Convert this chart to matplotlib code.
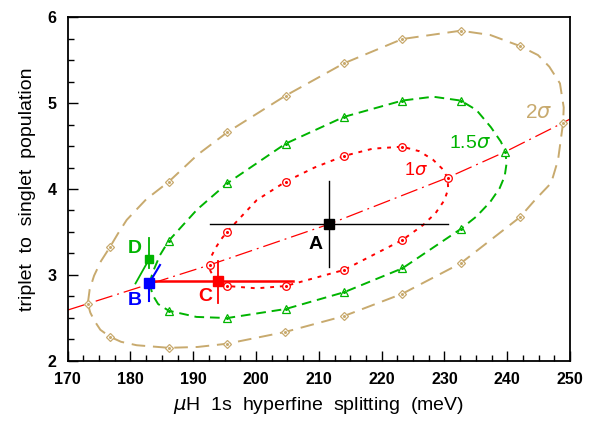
import numpy as np
import matplotlib.pyplot as plt
from matplotlib.ticker import MultipleLocator

plt.rcParams['font.family'] = ['Liberation Sans', 'DejaVu Sans']
plt.rcParams['mathtext.fontset'] = 'dejavusans'

# 2 sigma contour (closed), markers at mk2
x2 = [173.2, 173.6, 174.3, 175.2, 176.7, 178.5, 181.0, 186.1, 190.7, 195.4, 204.6, 214.0,
      223.3, 232.6, 242.0, 244.4, 247.0, 248.1, 248.9, 249.0, 248.4, 246.7, 244.9, 242.0,
      237.3, 232.6, 223.3, 214.0, 204.7, 195.4, 190.7, 186.1, 182.5, 179.4, 178.0, 176.7,
      175.3, 174.2, 173.5, 173.2]
y2 = [2.664, 2.56, 2.46, 2.36, 2.28, 2.22, 2.18, 2.15, 2.16, 2.198, 2.334, 2.52,
      2.78, 3.135, 3.67, 3.87, 4.07, 4.34, 4.772, 4.95, 5.23, 5.425, 5.56, 5.666,
      5.794, 5.844, 5.747, 5.464, 5.087, 4.66, 4.40, 4.085, 3.88, 3.64, 3.48, 3.32,
      3.16, 2.99, 2.83, 2.664]
mk2 = [0, 4, 7, 9, 10, 11, 12, 13, 14, 18, 23, 25, 26, 27, 28, 29, 31, 35]

# 1.5 sigma contour
x15 = [183.1, 183.3, 183.6, 184.7, 186.1, 190.6, 195.4, 204.7, 214.0, 223.3, 228.2, 232.6,
       235.1, 237.4, 239.0, 239.7, 239.9, 239.6, 238.8, 237.3, 235.1, 232.6, 223.3, 214.0,
       204.7, 195.4, 190.5, 186.1, 184.4, 183.5, 183.1]
y15 = [2.89, 2.97, 3.04, 3.23, 3.398, 3.76, 4.066, 4.528, 4.84, 5.03, 5.075, 5.03,
       4.92, 4.72, 4.55, 4.434, 4.30, 4.15, 4.01, 3.85, 3.68, 3.534, 3.076, 2.797,
       2.602, 2.497, 2.51, 2.582, 2.66, 2.77, 2.89]
mk15 = [4, 6, 7, 8, 9, 11, 15, 21, 22, 23, 24, 25, 27]

# 1 sigma contour
x1 = [192.6, 192.9, 193.6, 194.5, 195.4, 200.1, 204.7, 209.3, 214.0, 218.6, 223.3, 226.0,
      228.2, 229.6, 230.5, 230.6, 230.0, 228.6, 226.6, 223.3, 214.0, 204.7, 200.1, 195.4,
      194.2, 193.2, 192.7, 192.6]
y1 = [3.115, 3.22, 3.32, 3.42, 3.503, 3.87, 4.085, 4.25, 4.385, 4.47, 4.493, 4.44,
      4.34, 4.24, 4.132, 4.0, 3.87, 3.72, 3.58, 3.406, 3.057, 2.87, 2.843, 2.87,
      2.90, 2.98, 3.05, 3.115]
mk1 = [0, 4, 6, 8, 10, 14, 19, 20, 21, 23]

# line through the contour tips
xt = [170.0, 173.2, 182.9, 192.6, 211.6, 230.5, 239.7, 248.9, 250.0]
yt = [2.59, 2.664, 2.89, 3.115, 3.59, 4.132, 4.434, 4.772, 4.815]

# points A-D
A = (211.6, 3.59); A_xerr = 19.0; A_yerr = 0.5
C = (193.9, 2.93); C_xlo, C_xhi = 183.0, 205.9; C_ylo, C_yhi = 2.67, 3.16
B = (182.95, 2.90); B_ylo = 2.69; B_tip = (184.7, 3.115)
D = (182.95, 3.18); D_ylo, D_yhi = 3.08, 3.43; D_tail = (180.8, 2.90)

tan = '#C8AA6E'
green = '#00B400'
red = '#FF0000'
blue = '#0000FF'

fig = plt.figure(figsize=(5.9, 4.21), dpi=100)
ax = fig.add_axes([67.7/590, 1-360.7/421, (570-67.7)/590, (360.7-17.3)/421])

def contour(x, y, mk, color, ls, marker, ms):
    ax.plot(x, y, color=color, lw=1.4, dashes=ls, zorder=2)
    ax.plot(np.array(x)[mk], np.array(y)[mk], ls='none', marker=marker, ms=ms,
            mfc='white', mec=color, mew=0.9, zorder=3)
    ax.plot(np.array(x)[mk], np.array(y)[mk], ls='none', marker='o', ms=1.2,
            color=color, zorder=4)

contour(x2, y2, mk2, tan, (7, 4), 'D', 4.2)
contour(x15, y15, mk15, green, (5, 3), '^', 5.5)
contour(x1, y1, mk1, red, (2, 3), 'o', 5.5)

ax.plot(xt, yt, color=red, lw=0.9, dashes=(14, 4, 1.5, 4), zorder=2)

# A
ax.plot([A[0]-A_xerr, A[0]+A_xerr], [A[1], A[1]], color='black', lw=1.0, zorder=5)
ax.plot([A[0], A[0]], [A[1]-A_yerr, A[1]+A_yerr], color='black', lw=1.0, zorder=5)
ax.plot(*A, marker='s', ms=7, color='black', zorder=6)
# C
ax.plot([C_xlo, C_xhi], [C[1], C[1]], color=red, lw=1.8, zorder=5)
ax.plot([C[0], C[0]], [C_ylo, C_yhi], color=red, lw=1.3, zorder=5)
ax.plot(*C, marker='s', ms=6.5, color=red, zorder=6)
# D
ax.plot([D[0], D[0]], [D_ylo, D_yhi], color=green, lw=1.3, zorder=5)
ax.plot([D_tail[0], D[0]], [D_tail[1], D[1]], color=green, lw=1.3, zorder=5)
ax.plot(*D, marker='s', ms=6, color=green, zorder=6)
# B
ax.plot([B[0], B[0]], [B_ylo, B[1]], color=blue, lw=1.5, zorder=5)
ax.plot([B[0], B_tip[0]], [B[1], B_tip[1]], color=blue, lw=1.5, zorder=5)
ax.plot(*B, marker='s', ms=7, color=blue, zorder=7)

lbl = dict(ha='center', va='center', fontsize=14, fontweight='bold')
ax.text(209.5, 3.35, 'A', color='black', **lbl)
ax.text(180.7, 2.70, 'B', color=blue, **lbl)
ax.text(191.85, 2.745, 'C', color=red, **lbl)
ax.text(180.7, 3.31, 'D', color=green, **lbl)

ax.text(225.5, 4.22, r'1$\sigma$', color=red, fontsize=13, ha='center', va='center')
ax.text(234.0, 4.53, r'1.5$\sigma$', color=green, fontsize=14, ha='center', va='center')
ax.text(245.0, 4.89, r'2$\sigma$', color=tan, fontsize=15, ha='center', va='center')

ax.set_xlim(170, 250)
ax.set_ylim(2, 6)
ax.xaxis.set_major_locator(MultipleLocator(10))
ax.xaxis.set_minor_locator(MultipleLocator(2.5))
ax.yaxis.set_major_locator(MultipleLocator(1))
ax.yaxis.set_minor_locator(MultipleLocator(0.25))
ax.tick_params(which='both', direction='in', top=False, right=False, width=1.0)
ax.tick_params(which='major', length=7, labelsize=11.5, pad=8)
ax.tick_params(which='minor', length=4)
for t in ax.get_xticklabels() + ax.get_yticklabels():
    t.set_fontweight('bold')
for s in ax.spines.values():
    s.set_linewidth(1.3)

ax.set_xlabel(r'$\mu$H  1s  hyperfine  splitting  (meV)', fontsize=14, labelpad=6)
ax.set_ylabel('triplet  to  singlet  population', fontsize=14, labelpad=8)

fig.savefig('out.png', dpi=100)
